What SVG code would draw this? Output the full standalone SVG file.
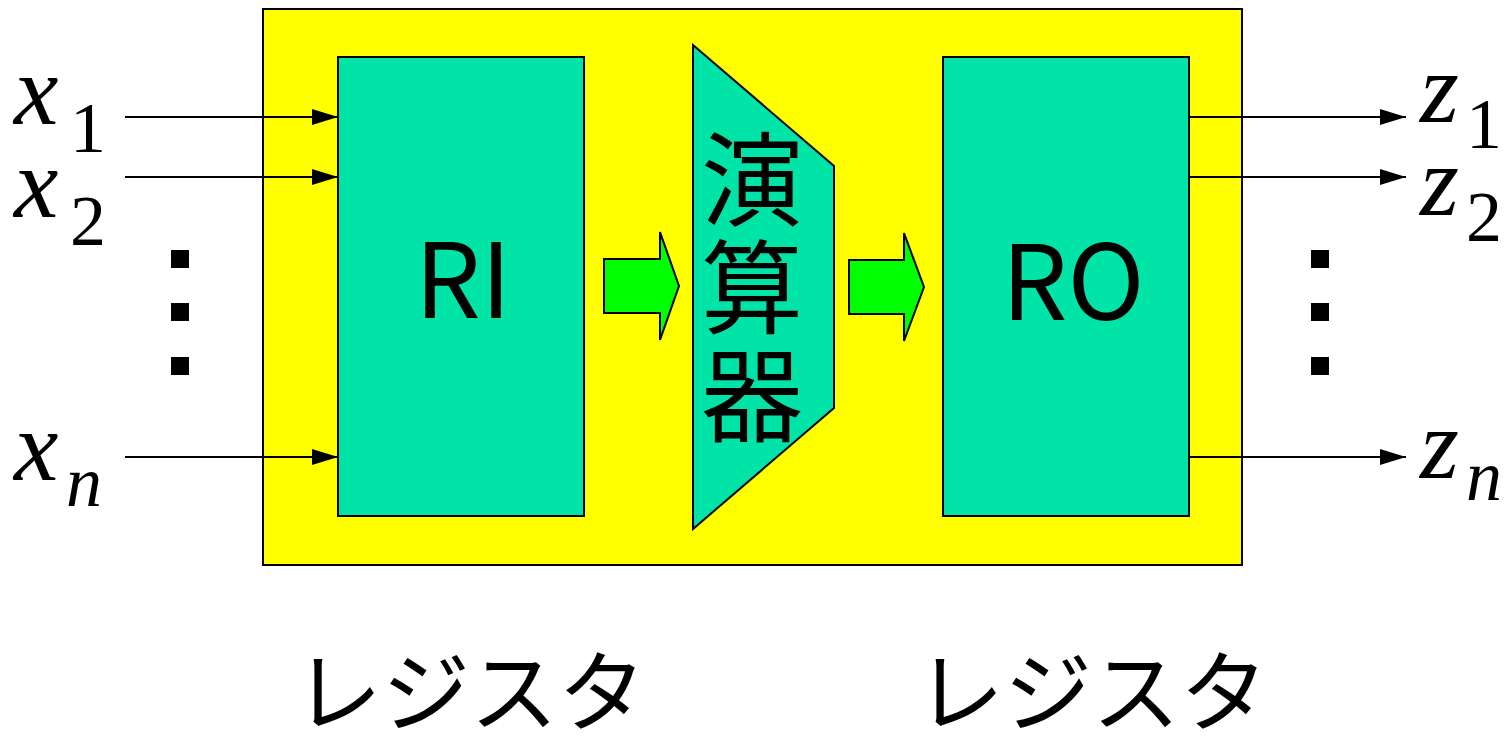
<svg xmlns="http://www.w3.org/2000/svg" width="1508" height="745" viewBox="0 0 1508 745">
<style>
.box{fill:#00e4a8;stroke:#000;stroke-width:2}
.big{fill:#000;font-family:"Noto Sans CJK JP","Noto Sans",sans-serif}
.math{font-family:"Liberation Serif","Times New Roman",serif;fill:#000}
.wire{stroke:#000;stroke-width:2;fill:none;marker-end:url(#ah)}
.fat{fill:#00ff00;stroke:#000;stroke-width:2}
.dot{fill:#000}
</style>
<defs>
<marker id="ah" viewBox="0 0 26 16" refX="26" refY="8" markerWidth="26" markerHeight="16" markerUnits="userSpaceOnUse" orient="auto">
<path d="M0,0 L26,8 L0,16 Z" fill="#000"/>
</marker>
</defs>
<rect width="1508" height="745" fill="#fff"/>
<g id="frame"><rect x="263" y="9" width="979" height="556" fill="#ffff00" stroke="#000" stroke-width="2"/></g>
<g id="RI"><rect class="box" x="338" y="57" width="246" height="459"/><text class="big" x="463" y="318" font-size="104" text-anchor="middle">RI</text></g>
<g id="ALU"><polygon class="box" points="693,45 834,166 834,408 693,529"/>
<text class="big" x="752" y="128" font-size="102" writing-mode="vertical-rl" letter-spacing="6">演算器</text></g>
<g id="RO"><rect class="box" x="943" y="57" width="246" height="459"/><text class="big" x="1073" y="320" font-size="104" text-anchor="middle">RO</text></g>
<g id="connectors">
<line class="wire" x1="125" y1="117" x2="338" y2="117"/>
<line class="wire" x1="125" y1="177" x2="338" y2="177"/>
<line class="wire" x1="125" y1="457" x2="338" y2="457"/>
<line class="wire" x1="1189" y1="117" x2="1406" y2="117"/>
<line class="wire" x1="1189" y1="177" x2="1406" y2="177"/>
<line class="wire" x1="1189" y1="457" x2="1406" y2="457"/>
<polygon class="fat" points="604,259 660,259 660,232 679,286 660,340 660,313 604,313"/>
<polygon class="fat" points="849,260 904,260 904,233 924,287 904,341 904,314 849,314"/>
</g>
<g id="inputs">
<text class="math" x="14" y="124" font-size="100" font-style="italic">x</text><text class="math" x="70" y="152" font-size="72">1</text>
<text class="math" x="14" y="217" font-size="100" font-style="italic">x</text><text class="math" x="70" y="245" font-size="72">2</text>
<text class="math" x="14" y="480" font-size="100" font-style="italic">x</text><text class="math" x="66" y="506" font-size="72" font-style="italic">n</text>
<rect class="dot" x="171" y="250" width="18" height="18"/>
<rect class="dot" x="171" y="303" width="18" height="18"/>
<rect class="dot" x="171" y="357" width="18" height="18"/>
</g>
<g id="outputs">
<text class="math" x="1420" y="122" font-size="100" font-style="italic">z</text><text class="math" x="1466" y="148" font-size="72">1</text>
<text class="math" x="1420" y="215" font-size="100" font-style="italic">z</text><text class="math" x="1466" y="241" font-size="72">2</text>
<text class="math" x="1420" y="478" font-size="100" font-style="italic">z</text><text class="math" x="1466" y="500" font-size="72" font-style="italic">n</text>
<rect class="dot" x="1311" y="250" width="18" height="18"/>
<rect class="dot" x="1311" y="303" width="18" height="18"/>
<rect class="dot" x="1311" y="357" width="18" height="18"/>
</g>
<g id="labels">
<text class="big" x="470" y="724" font-size="88" text-anchor="middle">レジスタ</text>
<text class="big" x="1092" y="724" font-size="88" text-anchor="middle">レジスタ</text>
</g>
</svg>
